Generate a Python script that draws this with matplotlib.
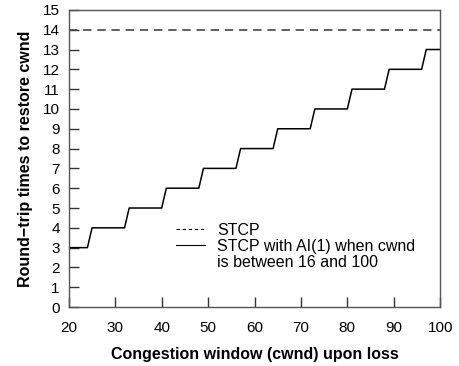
import matplotlib
matplotlib.use("Agg")
import matplotlib.pyplot as plt
from matplotlib.lines import Line2D

plt.rcParams["font.family"] = ["Liberation Sans", "DejaVu Sans"]

# STCP: constant number of RTTs
stcp_x = [20, 100]
stcp_y = [14, 14]

# STCP with AI(1) between 16 and 100: step breakpoints
ai_x = [20, 24, 25, 32, 33, 40, 41, 48, 49, 56, 57, 64, 65, 72, 73, 80, 81, 88, 89, 96, 97, 100]
ai_y = [3, 3, 4, 4, 5, 5, 6, 6, 7, 7, 8, 8, 9, 9, 10, 10, 11, 11, 12, 12, 13, 13]

xticks = [20, 30, 40, 50, 60, 70, 80, 90, 100]
yticks = list(range(0, 16))

fig = plt.figure(figsize=(4.59, 3.66), dpi=100)
ax = fig.add_axes([0.150, 0.161, 0.809, 0.812])

ax.plot(stcp_x, stcp_y, color="#444444", lw=1.2, dashes=(5, 3.5))
ax.plot(ai_x, ai_y, color="black", lw=1.1)

ax.set_xlim(20, 100)
ax.set_ylim(0, 15)
ax.set_xticks(xticks)
ax.set_yticks(yticks)
ax.tick_params(direction="in", length=7, width=1, color="#333333",
               labelsize=11, top=False, right=False)
ax.tick_params(axis="x", pad=10)
ax.tick_params(axis="y", pad=6.5)
for s in ax.spines.values():
    s.set_color("#555555")
    s.set_linewidth(1)

ax.set_xlabel("Congestion window (cwnd) upon loss", fontsize=11.5, fontweight="bold", labelpad=9)
ax.set_ylabel("Round\u2212trip times to restore cwnd", fontsize=11.5, fontweight="bold", labelpad=7)

handles = [
    Line2D([], [], color="black", lw=0.8, dashes=(3, 2.5)),
    Line2D([], [], color="black", lw=0.8),
    Line2D([], [], color="none"),
]
labels = ["STCP", "STCP with AI(1) when cwnd", "is between 16 and 100"]
ax.legend(handles, labels, loc="upper left", bbox_to_anchor=(0.288, 0.283),
          frameon=False, fontsize=11.5, handlelength=1.8, handletextpad=0.8,
          labelspacing=0.05, borderpad=0, borderaxespad=0)

fig.savefig("out.png", dpi=100)
